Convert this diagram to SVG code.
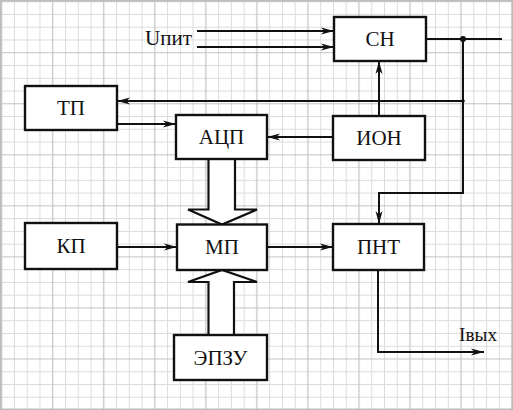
<svg xmlns="http://www.w3.org/2000/svg" width="513" height="410" viewBox="0 0 513 410">
<style>
.box{fill:#fff;stroke:#111;stroke-width:2.4}
.lbl{font-family:"Liberation Serif","Times New Roman",serif;font-size:21px;fill:#111;text-anchor:middle}
.txt{font-family:"Liberation Serif","Times New Roman",serif;fill:#111}
.ln{fill:none;stroke:#111;stroke-width:2}
.arr{marker-end:url(#ah)}
.bus{fill:#fff;stroke:#111;stroke-width:2.2;stroke-linejoin:miter}
.minor{stroke:#dcdcdc;stroke-width:1}
.major{stroke:#c2c2c2;stroke-width:1.2}
</style>
<defs>
<pattern id="grid" patternUnits="userSpaceOnUse" x="-4.68" y="-4.68" width="51.04" height="51.04">
<path class="minor" d="M19.14,0V51.04M31.9,0V51.04M44.66,0V51.04M0,19.14H51.04M0,31.9H51.04M0,44.66H51.04"/>
<path class="major" d="M6.38,0V51.04M0,6.38H51.04"/>
</pattern>
<marker id="ah" markerUnits="userSpaceOnUse" markerWidth="14" markerHeight="10" refX="13" refY="4" orient="auto">
<path d="M0,0.5L13,4L0,7.5L3.5,4z" fill="#111"/>
</marker>
</defs>
<rect x="0" y="0" width="513" height="410" fill="#fff"/>
<rect x="0" y="0" width="513" height="410" fill="url(#grid)"/>
<rect x="0.75" y="0.75" width="511.5" height="408.5" fill="none" stroke="#bdbdbd" stroke-width="1.5"/>

<g id="connectors">
<path class="ln arr" d="M197,31H334"/>
<path class="ln arr" d="M197,47H334"/>
<path class="ln" d="M426,39H502"/>
<path class="ln arr" d="M463,39V193H379V224"/>
<path class="ln arr" d="M463,101H117"/>
<path class="ln arr" d="M379,116V61"/>
<path class="ln arr" d="M333,137H267"/>
<path class="ln arr" d="M117,124H176"/>
<path class="ln arr" d="M117,247H177"/>
<path class="ln arr" d="M267,247H333"/>
<path class="ln arr" d="M378,270V352H484"/>
<circle cx="463" cy="39" r="3" fill="#111"/>
<circle cx="463" cy="101" r="1.8" fill="#111"/>
<path class="bus" d="M208.5,159V209.5H188L222,224.5L257,209.5H235V159"/>
<path class="bus" d="M208.5,335V282H188L222,270L257,282H234V335"/>
</g>

<g id="upit"><text class="txt" x="145" y="45" font-size="21" textLength="47" lengthAdjust="spacingAndGlyphs">Uпит</text></g>
<g id="ivyh"><text class="txt" x="459" y="341" font-size="19" textLength="38" lengthAdjust="spacingAndGlyphs">Iвых</text></g>

<g id="TP"><rect class="box" x="25" y="86" width="92" height="44"/><text class="lbl" x="71" y="115">ТП</text></g>
<g id="ACP"><rect class="box" x="176" y="115" width="91" height="44"/><text class="lbl" x="221.5" y="144">АЦП</text></g>
<g id="SN"><rect class="box" x="334" y="17" width="92" height="44"/><text class="lbl" x="380" y="46">СН</text></g>
<g id="ION"><rect class="box" x="333" y="116" width="92" height="44"/><text class="lbl" x="379" y="145">ИОН</text></g>
<g id="KP"><rect class="box" x="25" y="223" width="92" height="46"/><text class="lbl" x="71" y="253">КП</text></g>
<g id="MP"><rect class="box" x="177" y="224.5" width="90" height="45.5"/><text class="lbl" x="222" y="254">МП</text></g>
<g id="EPZU"><rect class="box" x="174" y="335" width="93" height="45"/><text class="lbl" x="220.5" y="365">ЭПЗУ</text></g>
<g id="PNT"><rect class="box" x="333" y="224" width="91" height="46"/><text class="lbl" x="378.5" y="254">ПНТ</text></g>
</svg>
